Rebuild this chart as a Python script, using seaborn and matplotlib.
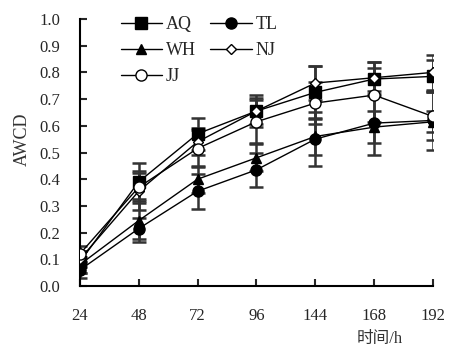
import matplotlib
matplotlib.use('Agg')
from matplotlib import pyplot as plt
import seaborn as sns
import pandas as pd

# sampling time (h) and AWCD per site
hours = ['24', '48', '72', '96', '144', '168', '192']
sites = ['AQ', 'TL', 'WH', 'NJ', 'JJ']
aq = [0.09, 0.39, 0.57, 0.655, 0.725, 0.775, 0.785]
tl = [0.06, 0.215, 0.355, 0.435, 0.55, 0.61, 0.62]
wh = [0.08, 0.245, 0.40, 0.48, 0.56, 0.595, 0.615]
nj = [0.10, 0.355, 0.54, 0.655, 0.76, 0.78, 0.80]
jj = [0.12, 0.37, 0.515, 0.615, 0.685, 0.715, 0.635]
aq_sd = [0.04, 0.07, 0.06, 0.06, 0.10, 0.065, 0.06]
tl_sd = [0.03, 0.04, 0.065, 0.065, 0.10, 0.12, 0.11]
wh_sd = [0.03, 0.08, 0.05, 0.05, 0.07, 0.06, 0.04]
nj_sd = [0.03, 0.07, 0.05, 0.05, 0.065, 0.06, 0.065]
jj_sd = [0.03, 0.06, 0.07, 0.08, 0.08, 0.10, 0.09]

markers = {'AQ': 's', 'TL': 'o', 'WH': '^', 'NJ': 'D', 'JJ': 'o'}
faces = {'AQ': 'black', 'TL': 'black', 'WH': 'black', 'NJ': 'white', 'JJ': 'white'}
msizes = {'AQ': 8, 'TL': 8, 'WH': 7, 'NJ': 5.5, 'JJ': 8}


def BuildData():
    vals = [aq, tl, wh, nj, jj]
    sds = [aq_sd, tl_sd, wh_sd, nj_sd, jj_sd]
    rows = []
    for s, v, e in zip(sites, vals, sds):
        for i, h in enumerate(hours):
            rows.append({'site': s, 'pos': i, 'hour': h, 'awcd': v[i], 'sd': e[i]})
    return pd.DataFrame(rows)


def PlotAll(pd_data, outfile):
    sns.set_style('ticks')
    plt.rcParams['font.family'] = ['Liberation Serif', 'Noto Sans CJK SC']
    fig = plt.figure(figsize=(4.64, 3.51), dpi=100)
    axe = fig.add_axes([0.172, 0.185, 0.761, 0.761])

    for s in sites:
        d = pd_data[pd_data.site == s]
        axe.errorbar(d.pos, d.awcd, yerr=d.sd, fmt='none', ecolor='#333333',
                     elinewidth=1.8, capsize=5, capthick=1.8, zorder=1)

    for s in sites:
        d = pd_data[pd_data.site == s]
        sns.lineplot(data=d, x='pos', y='awcd', ax=axe, color='black', lw=1,
                     marker=markers[s], markersize=msizes[s], markerfacecolor=faces[s],
                     markeredgecolor='black', markeredgewidth=1, zorder=3, label=s)
    hs, ls = axe.get_legend_handles_labels()
    handles = dict(zip(ls, hs))
    order = ['AQ', 'WH', 'JJ', 'TL', 'NJ']
    axe.legend([handles[k] for k in order], order, ncol=2, frameon=False,
               loc='upper left', bbox_to_anchor=(0.09, 1.045), fontsize=13,
               handlelength=2.3, handletextpad=0.2, columnspacing=0.8,
               labelspacing=0.5, borderpad=0)

    axe.set_xlim(0, len(hours) - 1)
    axe.set_ylim(0, 1.0)
    axe.set_xticks(range(len(hours)))
    axe.set_xticklabels(hours)
    axe.set_yticks([i / 10 for i in range(11)])
    axe.set_yticklabels(['%.1f' % (i / 10) for i in range(11)])
    sns.despine(ax=axe)
    plt.setp(axe.spines.values(), linewidth=1.5, color='black')
    axe.tick_params(axis='x', direction='in', length=5, width=1.5, pad=16, labelsize=12)
    axe.tick_params(axis='y', direction='in', length=5, width=1.5, pad=14, labelsize=12)
    axe.set_xlabel('时间/h', fontsize=12, color='#333333')
    axe.xaxis.set_label_coords(0.85, -0.17)
    axe.set_ylabel('AWCD', fontsize=13, color='#333333')
    axe.yaxis.set_label_coords(-0.14, 0.55)
    plt.savefig(outfile, dpi=100)


def main():
    pd_data = BuildData()
    PlotAll(pd_data, 'out.png')


if __name__ == '__main__':
    main()
